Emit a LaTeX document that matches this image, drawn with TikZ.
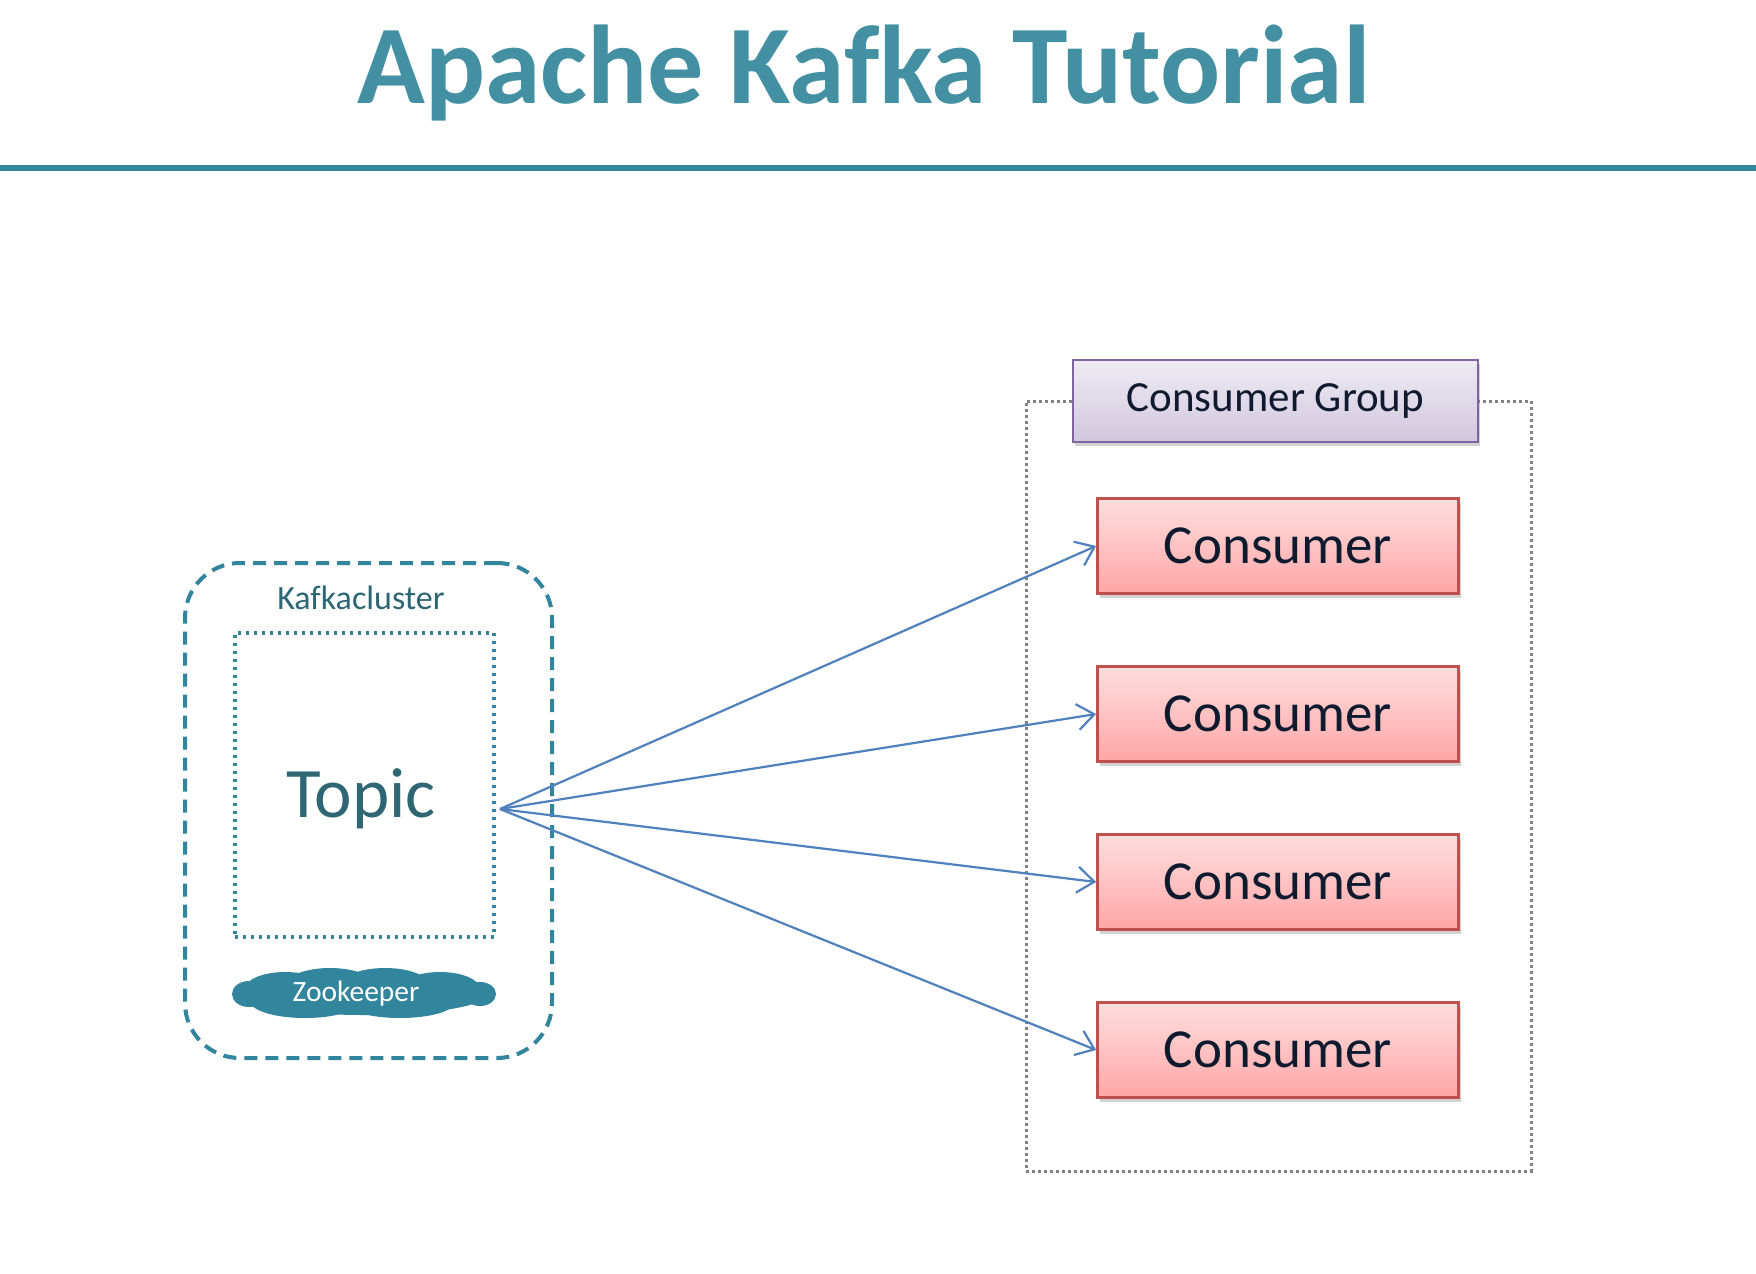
\documentclass[tikz,border=0pt]{standalone}
\usepackage{fontspec}
\setmainfont{Carlito}[Ligatures=NoCommon]
\usetikzlibrary{shadows,arrows.meta}
\definecolor{kteal}{HTML}{31859C}
\definecolor{ktitle}{HTML}{4290A2}
\definecolor{kdark}{HTML}{2E6673}
\definecolor{kblue}{HTML}{4F81BD}
\definecolor{kred}{HTML}{C0504D}
\definecolor{kpurple}{HTML}{8064A2}
\definecolor{kink}{HTML}{0F1A2E}

\begin{document}
\begin{tikzpicture}[x=1pt, y=-1pt,
	consumer/.style={shape=rectangle, draw=kred, line width=2.8pt, top color=red!13, bottom color=red!35!white, drop shadow={opacity=0.35, shadow xshift=2pt, shadow yshift=-4pt}, minimum width=361pt, minimum height=95pt, text=kink, font=\fontsize{55}{60}\selectfont},
	feed/.style={draw=kblue, line width=2.2pt, -{Straight Barb[length=17pt, width=26pt, line width=2.2pt]}}]
	% Page, title and rule:
	\fill[white] (0, 0) rectangle (1756, 1274);
	\useasboundingbox (0, 0) rectangle (1756, 1274);
	\node[anchor=base, text=ktitle, font=\fontsize{112}{120}\selectfont\bfseries] (title) at (864, 103){Apache Kafka Tutorial};
	\coordinate (rulel) at (0, 168);
	\coordinate (ruler) at (1756, 168);
	\draw[kteal, line width=6pt] (rulel) -- (ruler);
	% Kafka cluster:
	\node[shape=rectangle, draw=kteal, line width=4pt, dash pattern={on 13pt off 8pt}, rounded corners=55pt, minimum width=367pt, minimum height=495pt] (cluster) at (368.5, 810.5){};
	\node[text=kdark, font=\fontsize{34}{38}\selectfont] (clusterlabel) at (361, 598){Kafkacluster};
	\node[shape=rectangle, draw=kteal, line width=4pt, dash pattern={on 3pt off 5pt}, minimum width=259pt, minimum height=304pt] (topicbox) at (364.5, 785){};
	\node[text=kdark, font=\fontsize{71}{76}\selectfont] (topic) at (361, 799){Topic};
	% cloud drawn from overlapping ellipses
	\fill[kteal] (249, 994) ellipse [x radius=17, y radius=13]
		(285, 989) ellipse [x radius=40, y radius=17]
		(330, 986) ellipse [x radius=45, y radius=18]
		(385, 986) ellipse [x radius=45, y radius=18]
		(440, 989) ellipse [x radius=40, y radius=17]
		(480, 994) ellipse [x radius=16, y radius=12]
		(305, 1001) ellipse [x radius=55, y radius=17]
		(400, 1002) ellipse [x radius=55, y radius=16]
		(364, 995) ellipse [x radius=122, y radius=20];
	\node[text=white, font=\fontsize{29.5}{32}\selectfont] (zk) at (356, 994){Zookeeper};
	% Consumer group:
	\node[shape=rectangle, draw=black!50, line width=3pt, dash pattern={on 3pt off 3pt}, minimum width=505pt, minimum height=770pt] (group) at (1278.5, 786){};
	\node[shape=rectangle, draw=kpurple, line width=2.8pt, top color=kpurple!13, bottom color=kpurple!36, drop shadow={opacity=0.35, shadow xshift=2pt, shadow yshift=-4pt}, minimum width=405pt, minimum height=82pt, text=kink, font=\fontsize{43}{46}\selectfont] (grouplabel) at (1275.5, 401){\raisebox{-3pt}{Consumer Group}};
	\node[consumer] (c1) at (1278, 546){Consumer};
	\node[consumer] (c2) at (1278, 714){Consumer};
	\node[consumer] (c3) at (1278, 882){Consumer};
	\node[consumer] (c4) at (1278, 1050){Consumer};
	% Arrows:
	\coordinate (src) at (500, 809);
	\draw[feed] (src) -- (c1.west);
	\draw[feed] (src) -- (c2.west);
	\draw[feed] (src) -- (c3.west);
	\draw[feed] (src) -- (c4.west);
\end{tikzpicture}
\end{document}
